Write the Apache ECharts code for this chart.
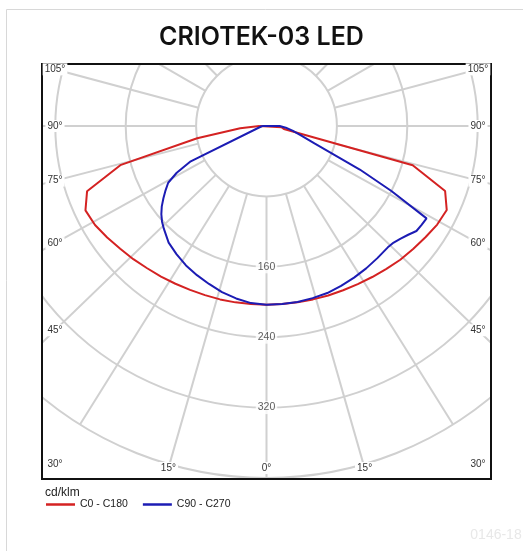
<!DOCTYPE html>
<html>
<head>
    <meta charset="UTF-8">
    <title>CRIOTEK-03 LED</title>
    <script src="https://cdn.jsdelivr.net/npm/echarts@6/dist/echarts.min.js"></script>
</head>
<body style="margin: 0; background: #fff">
<div id="container" style="width: 523px; height: 551px"></div>
<script>
    // gamma angles (deg from nadir) and intensity in cd/klm
    var redGamma = [0, 5, 10, 15, 20, 25, 30, 35, 40, 45, 50, 55, 60, 65, 70, 75, 80, 85, 90];
    var redLeft = [203, 203, 203.5, 204, 204.5, 205.5, 207, 209, 211, 214, 217, 221, 225, 227, 217, 172, 80, 30, 8];
    var redRight = [203, 203, 203.5, 204, 205, 206, 207.5, 209.5, 212, 215, 217.5, 220.5, 224, 226, 216, 172, 20, 17, 15];

    var blueGamma = [0, 5, 10, 15, 20, 25, 30, 35, 40, 45, 47.5, 50, 52.5, 55, 57.5, 60, 62.5, 65, 70, 75, 80, 85, 90];
    var blueLeft = [203, 202, 199, 195.5, 191, 187, 183, 178, 173, 165, 161, 156, 150, 143, 136, 129, 115, 95, 4, 4, 5, 5, 5];
    var blueRight = [203, 203, 203, 202.5, 202, 200.5, 199, 197.5, 196, 195, 196, 199, 203, 208, 209, 210, 160, 117, 58, 40, 30, 22, 15];

    var radiusLabels = [160, 240, 320];
    var gridAngles = [0, 16, 32, 46, 61, 75.5, 90, 105, 120, 135.5, 150, 165, 180];
    var edgeLabels = ['0°', '15°', '30°', '45°', '60°', '75°', '90°', '105°'];
    var seriesNames = ['C0 - C180', 'C90 - C270'];

    var frame = {x: 42, y: 64, w: 449, h: 415};

    // left half uses angle g, right half 360 - g, closed across the top
    function curve(gamma, left, right) {
        var pts = [];
        for (var i = gamma.length - 1; i >= 0; i--) pts.push([left[i], gamma[i]]);
        for (var j = 0; j < gamma.length; j++) pts.push([right[j], 360 - gamma[j]]);
        pts.push(pts[0]);
        return pts;
    }

    var gridData = [];
    gridAngles.forEach(function (a) {
        gridData.push([400, a]);
        if (a > 0 && a < 180) gridData.push([400, 360 - a]);
    });

    var chart = echarts.init(document.getElementById('container'));

    var option = {
        animation: false,
        title: [{
            text: 'CRIOTEK-03 LED',
            left: 'center',
            top: 25,
            padding: [0, 0, 0, 7],
            z: 20,
            textStyle: {fontFamily: 'Inter', fontWeight: 600, fontSize: 25, color: '#111'}
        }, {
            text: 'cd/klm',
            left: 45,
            top: 487,
            padding: 0,
            z: 20,
            textStyle: {fontFamily: 'Liberation Sans', fontWeight: 'normal', fontSize: 12, color: '#222'}
        }],
        legend: {
            data: seriesNames,
            left: 46,
            top: 499,
            padding: 0,
            z: 20,
            icon: 'rect',
            itemWidth: 29,
            itemHeight: 2.5,
            itemGap: 15,
            textStyle: {fontFamily: 'Liberation Sans', fontSize: 10.5, color: '#222'}
        },
        polar: {
            center: [266.5, 126],
            radius: [0, 352]
        },
        angleAxis: {
            type: 'value',
            min: 0,
            max: 360,
            startAngle: 270,
            clockwise: true,
            axisLine: {show: false},
            axisTick: {show: false},
            axisLabel: {show: false},
            splitLine: {show: false}
        },
        radiusAxis: {
            type: 'value',
            min: 0,
            max: 400,
            interval: 80,
            axisLine: {show: false},
            axisTick: {show: false},
            axisLabel: {show: false},
            splitLine: {show: true, lineStyle: {color: '#d0d0d0', width: 2}}
        },
        series: [{
            name: 'grid',
            type: 'custom',
            coordinateSystem: 'polar',
            silent: true,
            z: 1,
            data: gridData,
            renderItem: function (params, api) {
                var a = api.value(1);
                var p0 = api.coord([80, a]);
                var p1 = api.coord([api.value(0), a]);
                return {
                    type: 'line',
                    shape: {x1: p0[0], y1: p0[1], x2: p1[0], y2: p1[1]},
                    style: {stroke: '#d0d0d0', lineWidth: 2}
                };
            }
        }, {
            name: seriesNames[0],
            type: 'line',
            coordinateSystem: 'polar',
            clip: false,
            showSymbol: false,
            silent: true,
            z: 3,
            color: '#d42222',
            lineStyle: {width: 2, color: '#d42222'},
            data: curve(redGamma, redLeft, redRight)
        }, {
            name: seriesNames[1],
            type: 'line',
            coordinateSystem: 'polar',
            clip: false,
            showSymbol: false,
            silent: true,
            z: 3,
            color: '#1c1cb4',
            lineStyle: {width: 2, color: '#1c1cb4'},
            data: curve(blueGamma, blueLeft, blueRight)
        }, {
            name: 'radius',
            type: 'scatter',
            coordinateSystem: 'polar',
            silent: true,
            z: 4,
            symbolSize: 1,
            itemStyle: {color: 'rgba(0,0,0,0)'},
            label: {
                show: true,
                position: 'inside',
                formatter: function (p) { return p.value[0]; },
                fontFamily: 'Liberation Sans',
                fontSize: 10.5,
                color: '#333',
                backgroundColor: '#fff',
                padding: [1, 2]
            },
            data: radiusLabels.map(function (r) { return [r, 0]; })
        }]
    };

    chart.setOption(option);

    // white masks outside the frame, frame, card border, edge labels
    var g = [
        {type: 'rect', z: 10, silent: true, shape: {x: 0, y: 0, width: 523, height: frame.y}, style: {fill: '#fff'}},
        {type: 'rect', z: 10, silent: true, shape: {x: 0, y: frame.y + frame.h, width: 523, height: 100}, style: {fill: '#fff'}},
        {type: 'rect', z: 10, silent: true, shape: {x: 0, y: 0, width: frame.x, height: 551}, style: {fill: '#fff'}},
        {type: 'rect', z: 10, silent: true, shape: {x: frame.x + frame.w, y: 0, width: 100, height: 551}, style: {fill: '#fff'}},
        {type: 'rect', z: 11, silent: true, shape: {x: 6.5, y: 9.5, width: 600, height: 600}, style: {fill: null, stroke: '#d8d8d8', lineWidth: 1}},
        {type: 'rect', z: 11, silent: true, shape: {x: frame.x, y: frame.y, width: frame.w, height: frame.h}, style: {fill: null, stroke: '#111', lineWidth: 2}},
        {type: 'text', z: 11, silent: true, style: {text: '0146-18', x: 496, y: 535, textAlign: 'center', textVerticalAlign: 'middle', font: '14px "Liberation Sans"', fill: '#e8e8e8'}}
    ];

    var c0 = chart.convertToPixel({seriesIndex: 1}, [0, 0]);
    var xl = frame.x + 13, xr = frame.x + frame.w - 13, yb = frame.y + frame.h - 11;
    edgeLabels.forEach(function (txt, i) {
        var sides = gridAngles[i] === 0 ? [0] : [gridAngles[i], 360 - gridAngles[i]];
        sides.forEach(function (ang) {
            var p = chart.convertToPixel({seriesIndex: 1}, [400, ang]);
            var dx = p[0] - c0[0], dy = p[1] - c0[1];
            var t = Infinity;
            if (dx < -0.01) t = Math.min(t, (xl - c0[0]) / dx);
            if (dx > 0.01) t = Math.min(t, (xr - c0[0]) / dx);
            if (dy > 0.01) t = Math.min(t, (yb - c0[1]) / dy);
            g.push({
                type: 'text', z: 12, silent: true,
                style: {
                    text: txt, x: c0[0] + dx * t, y: c0[1] + dy * t,
                    textAlign: 'center', textVerticalAlign: 'middle',
                    font: '10px "Liberation Sans"', fill: '#333',
                    backgroundColor: '#fff', padding: [1, 2]
                }
            });
        });
    });

    chart.setOption({graphic: g});
</script>
</body>
</html>
